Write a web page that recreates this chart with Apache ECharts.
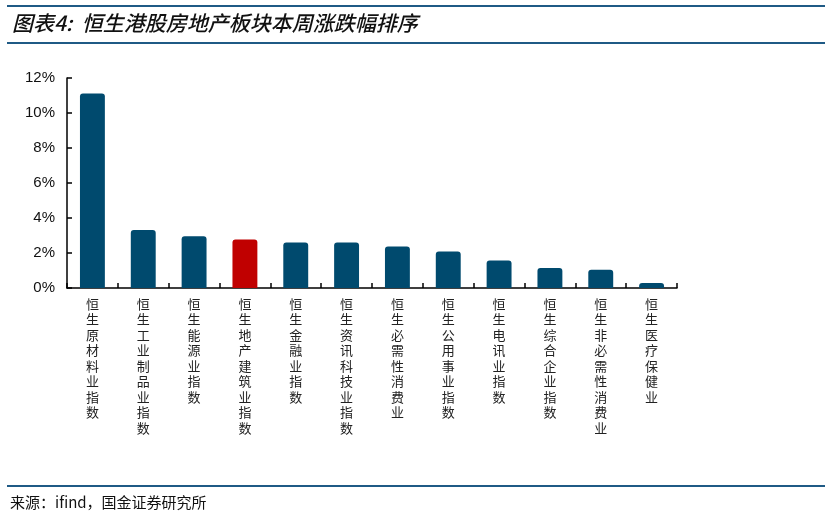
<!DOCTYPE html>
<html><head><meta charset="utf-8">
<script src="https://cdn.jsdelivr.net/npm/echarts@6/dist/echarts.min.js"></script>
<style>html,body{margin:0;padding:0;background:#fff}#c{width:831px;height:518px}</style>
</head><body><div id="c"></div>
<script>
var titleText = '图表4:  恒生港股房地产板块本周涨跌幅排序';
var sourceText = '来源：ifind，国金证券研究所';
var categories = ['恒生原材料业指数','恒生工业制品业指数','恒生能源业指数','恒生地产建筑业指数','恒生金融业指数','恒生资讯科技业指数','恒生必需性消费业','恒生公用事业指数','恒生电讯业指数','恒生综合企业指数','恒生非必需性消费业','恒生医疗保健业'];
var values = [11.12, 3.31, 2.96, 2.77, 2.60, 2.60, 2.37, 2.09, 1.57, 1.15, 1.05, 0.29];
var highlightIndex = 3;
var yTicks = [0, 2, 4, 6, 8, 10, 12];

var chart = echarts.init(document.getElementById('c'));
chart.setOption({
  animation: false,
  grid: {left: 67, right: 154, top: 78, bottom: 230, containLabel: false},
  graphic: [
    {type: 'line', shape: {x1: 7, y1: 6, x2: 825, y2: 6}, style: {stroke: '#1f5a85', lineWidth: 2}},
    {type: 'line', shape: {x1: 7, y1: 43, x2: 825, y2: 43}, style: {stroke: '#1f5a85', lineWidth: 2}},
    {type: 'line', shape: {x1: 7, y1: 486, x2: 825, y2: 486}, style: {stroke: '#1f5a85', lineWidth: 2}},
    {type: 'text', left: 12, top: 13, style: {text: titleText, font: 'italic 500 21px "Noto Sans CJK SC"', fill: '#111'}},
    {type: 'text', left: 10, top: 495, style: {text: sourceText, font: '15px "Noto Sans CJK SC"', fill: '#111'}}
  ],
  xAxis: {
    type: 'category',
    data: categories,
    axisLine: {lineStyle: {color: '#000', width: 1.5}},
    axisTick: {show: true, inside: true, length: 5, alignWithLabel: false, lineStyle: {color: '#000', width: 1.5}},
    axisLabel: {
      interval: 0, margin: 8,
      fontFamily: '"Noto Sans CJK SC"', fontSize: 13, color: '#222', lineHeight: 15.5,
      verticalAlign: 'top',
      formatter: function (v) { return v.split('').join('\n'); }
    }
  },
  yAxis: {
    type: 'value', min: 0, max: 12, interval: 2,
    splitLine: {show: false},
    axisLine: {show: true, lineStyle: {color: '#000', width: 1.5}},
    axisTick: {show: true, inside: true, length: 5, lineStyle: {color: '#000', width: 1.5}},
    axisLabel: {fontFamily: '"Liberation Sans", Arial', fontSize: 15, color: '#111', margin: 12,
      formatter: function (v) { return v + '%'; }}
  },
  series: [{
    type: 'bar',
    barWidth: '49%',
    data: values.map(function (v, i) {
      return {value: v, itemStyle: {color: i === highlightIndex ? '#c00000' : '#004a6e'}};
    }),
    itemStyle: {borderRadius: [3, 3, 0, 0]}
  }]
});
</script></body></html>
